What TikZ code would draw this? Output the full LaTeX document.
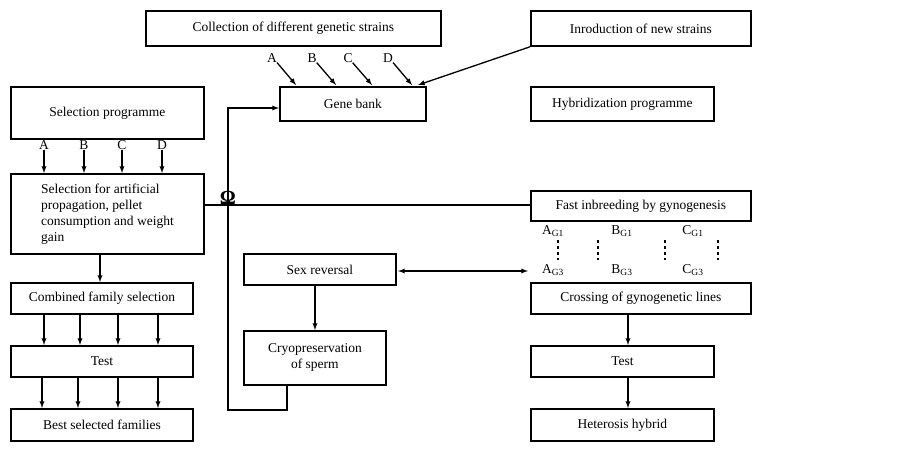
\documentclass[tikz,border=0pt]{standalone}
\usepackage{fontspec}
\setmainfont{Liberation Serif}
\begin{document}
\begin{tikzpicture}[x=1pt,y=-1pt,font=\fontsize{13.5}{16}\selectfont]
  \tikzset{box/.style={draw,line width=1.8pt,inner sep=2pt,anchor=north west}}
  \tikzset{flow/.style={->,>=latex,line width=1.3pt}}
  \tikzset{tag/.style={inner sep=0pt}}
  \useasboundingbox (0,0) rectangle (900,451);
  \newcommand{\boxat}[6]{\node[box,minimum width=#3pt,minimum height=#4pt,align=#6] (#1) at #2 {#5};}
  \boxat{collect}{(145,10)}{295}{35}{Collection of different genetic strains}{center}
  \boxat{intro}{(530,10)}{220}{35}{Inroduction of new strains}{center}
  \boxat{genebank}{(279,86)}{146}{34}{Gene bank}{center}
  \boxat{hybrid}{(530,86)}{183}{34}{Hybridization programme}{center}
  \boxat{selprog}{(10,86)}{193}{52}{Selection programme}{center}
  \node[box,minimum width=193pt,minimum height=80pt,align=left] (selart) at (10,173)
    {Selection for artificial\\ propagation, pellet\\ consumption and weight\\ gain};
  \boxat{combined}{(10,282)}{182}{31}{Combined family selection}{center}
  \boxat{testL}{(10,345)}{182}{31}{Test}{center}
  \boxat{best}{(10,408)}{182}{32}{Best selected families}{center}
  \boxat{sexrev}{(243,253)}{152}{31}{Sex reversal}{center}
  \boxat{cryo}{(243,330)}{142}{54}{Cryopreservation\\ of sperm}{center}
  \boxat{fast}{(530,190)}{220}{30}{Fast inbreeding by gynogenesis}{center}
  \boxat{crossing}{(530,282)}{220}{31}{Crossing of gynogenetic lines}{center}
  \boxat{testR}{(530,345)}{183}{31}{Test}{center}
  \boxat{heterosis}{(530,408)}{183}{32}{Heterosis hybrid}{center}
  % letters into the gene bank
  \foreach \n/\x in {A/272,B/312,C/348,D/388} {
    \node[tag] (gb\n) at (\x,58) {\n};
    \coordinate (gbe\n) at (\x+24,85);
    \draw[flow] (gb\n.south east) -- (gbe\n);
  }
  \coordinate (introend) at (418,85);
  \draw[flow] (intro.south west) -- (introend);
  % letters from the selection programme
  \foreach \n/\x in {A/44,B/84,C/122,D/162} {
    \node[tag] (sp\n) at (\x,145) {\n};
    \draw[flow] (sp\n.south) -- (\x,173);
  }
  \draw[flow] (100,253) -- (100,282);
  \foreach \x in {44,80,118,158} \draw[flow] (\x,313) -- (\x,345);
  \foreach \x in {42,78,118,158} \draw[flow] (\x,376) -- (\x,408);
  % link between the two programmes
  \draw[line width=1.3pt] (selart.east |- 0,205) -- (fast.west |- 0,205);
  \node[tag,font=\fontsize{20}{20}\selectfont\bfseries] (omega) at (228,198) {Ω};
  \draw[flow] (287,384) -- (287,410) -- (228,410) -- (228,108) -- (genebank.west |- 0,108);
  \draw[flow] (315,284) -- (315,330);
  \coordinate (sxe) at (398,271);
  \coordinate (crosse) at (528,271);
  \draw[flow,<->] (sxe) -- (crosse);
  % gynogenetic lines
  \foreach \n/\x in {A/553,B/622,C/693} {
    \node[tag] (\n g1) at (\x,231) {\n$_{\mathrm{G1}}$};
    \node[tag] (\n g3) at (\x,270) {\n$_{\mathrm{G3}}$};
  }
  \foreach \x in {558,598,665,718} \draw[dashed,line width=1.3pt] (\x,240) -- (\x,260);
  \draw[flow] (628,313) -- (628,345);
  \draw[flow] (628,376) -- (628,408);
\end{tikzpicture}
\end{document}
